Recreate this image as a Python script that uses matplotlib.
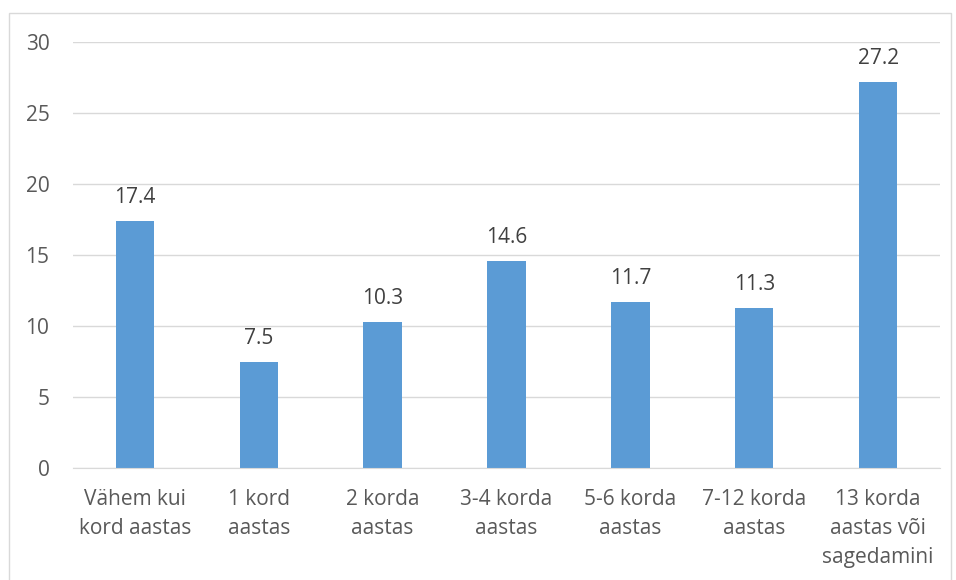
import matplotlib
matplotlib.use("Agg")
import matplotlib.pyplot as plt
from matplotlib.patches import Rectangle

categories = ["Vähem kui\nkord aastas", "1 kord\naastas", "2 korda\naastas",
              "3-4 korda\naastas", "5-6 korda\naastas", "7-12 korda\naastas",
              "13 korda\naastas või\nsagedamini"]
values = [17.4, 7.5, 10.3, 14.6, 11.7, 11.3, 27.2]
yticks = [0, 5, 10, 15, 20, 25, 30]

plt.rcParams['font.family'] = ['Open Sans', 'DejaVu Sans']
txt = '#595959'
fs = 15

fig = plt.figure(figsize=(9.56, 5.8), dpi=100)
ax = fig.add_axes([73/956, 1-468/580, (940-73)/956, (468-42)/580])

x = list(range(len(categories)))
ax.bar(x, values, width=0.31, color='#5B9BD5', zorder=3)
for xi, v in zip(x, values):
    ax.annotate(f"{v}", (xi, v), xytext=(0, 9), textcoords='offset points',
                ha='center', va='bottom', fontsize=fs, color='#404040')

ax.set_xlim(-0.5, len(categories) - 0.5)
ax.set_ylim(0, 30)
ax.set_yticks(yticks)
ax.set_xticks(x)
ax.set_xticklabels(categories, fontsize=fs, color=txt, linespacing=1.52)
ax.tick_params(axis='y', labelsize=fs, labelcolor=txt, length=0, pad=17)
ax.tick_params(axis='x', length=0, pad=15)
ax.grid(axis='y', color='#D9D9D9', linewidth=1, zorder=0)
for s in ['top', 'right', 'left']:
    ax.spines[s].set_visible(False)
ax.spines['bottom'].set_color('#D9D9D9')
ax.spines['bottom'].set_zorder(4)

fig.patches.append(Rectangle((9/956, -0.01), (951-9)/956, 1 - 13/580 + 0.01,
                             transform=fig.transFigure, fill=False,
                             edgecolor='#D9D9D9', linewidth=1))

fig.savefig("out.png", dpi=100)
